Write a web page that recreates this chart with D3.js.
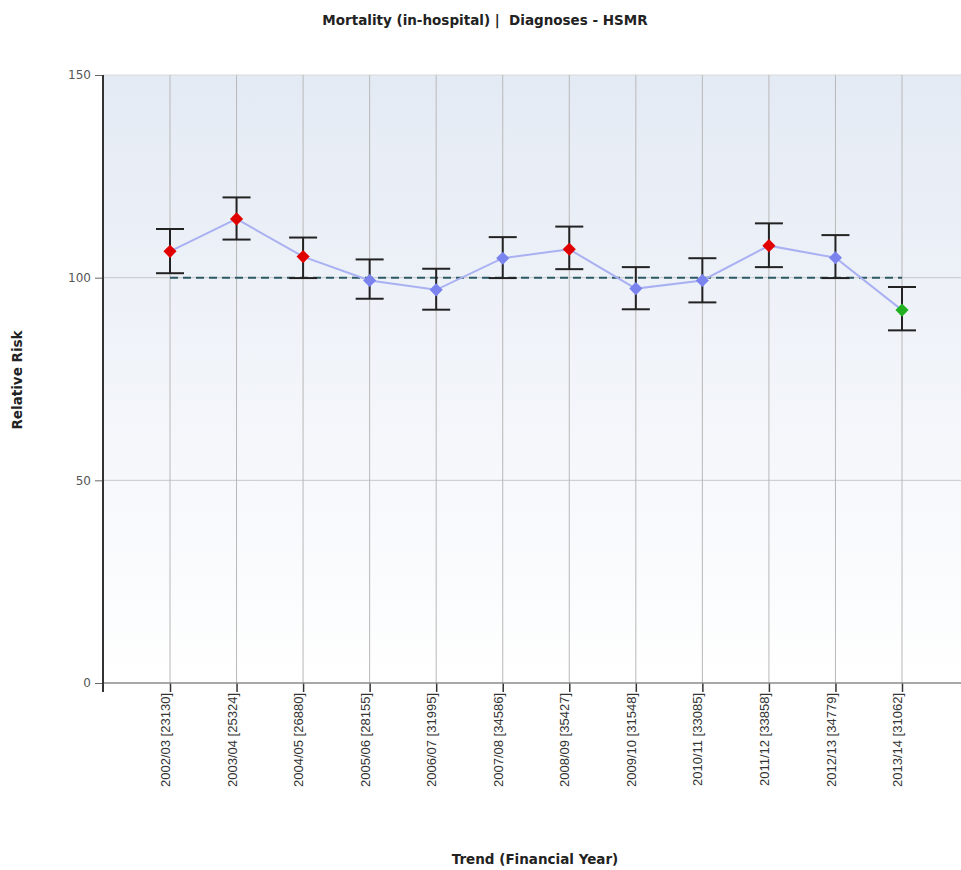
<!DOCTYPE html>
<html><head><meta charset="utf-8">
<script src="https://cdn.jsdelivr.net/npm/d3@7"></script>
<style>body{margin:0;background:#fff;}svg{display:block;}</style>
</head><body>
<script>
const categories = ["2002/03 [23130]","2003/04 [25324]","2004/05 [26880]","2005/06 [28155]","2006/07 [31995]","2007/08 [34586]","2008/09 [35427]","2009/10 [31548]","2010/11 [33085]","2011/12 [33858]","2012/13 [34779]","2013/14 [31062]"];
const riskValues = [106.5, 114.5, 105.2, 99.3, 97.0, 104.8, 107.0, 97.3, 99.3, 107.9, 104.9, 92.0];
const upperCI = [112.0, 119.8, 109.9, 104.5, 102.2, 110.0, 112.6, 102.6, 104.8, 113.4, 110.5, 97.7];
const lowerCI = [101.1, 109.4, 99.9, 94.8, 92.1, 99.9, 102.1, 92.2, 93.9, 102.6, 99.9, 87.0];
const status = ["high","high","high","normal","normal","normal","high","normal","normal","high","normal","low"];
const yTicks = [0, 50, 100, 150];
const benchmark = 100;

const W = 961, H = 870;
const m = {left: 103, top: 75, right: 0, bottom: 187};
const svg = d3.select("body").append("svg").attr("width", W).attr("height", H);

const x = d3.scalePoint().domain(categories).range([170, 902]);
const y = d3.scaleLinear().domain([0, 150]).range([H - m.bottom, m.top]);

const defs = svg.append("defs");
const grad = defs.append("linearGradient").attr("id","bg").attr("x1",0).attr("y1",0).attr("x2",0).attr("y2",1);
grad.append("stop").attr("offset","0%").attr("stop-color","#e4eaf4");
grad.append("stop").attr("offset","100%").attr("stop-color","#ffffff");

svg.append("rect").attr("x", m.left).attr("y", m.top).attr("width", W - m.left).attr("height", y(0) - m.top).attr("fill","url(#bg)");

svg.append("line").attr("x1", m.left).attr("x2", W).attr("y1", m.top).attr("y2", m.top).attr("stroke","#d8d8d8");

svg.append("g").selectAll("line").data(yTicks.filter(d => d > 0 && d < 150)).join("line")
  .attr("x1", m.left).attr("x2", W).attr("y1", d => y(d)).attr("y2", d => y(d))
  .attr("stroke","#c8c8c8").attr("stroke-width",1);

svg.append("g").selectAll("line").data(categories).join("line")
  .attr("x1", d => x(d)).attr("x2", d => x(d)).attr("y1", m.top).attr("y2", y(0))
  .attr("stroke","#b8b8b8").attr("stroke-width",1);

const xAxis = svg.append("g").attr("transform", `translate(0,${y(0)})`)
  .call(d3.axisBottom(x).tickSize(9).tickPadding(3));
xAxis.select(".domain").remove();
svg.append("line").attr("x1", m.left).attr("x2", W).attr("y1", y(0)).attr("y2", y(0)).attr("stroke","#8a8a8a").attr("stroke-width",1.5);
xAxis.selectAll(".tick line").attr("stroke","#333").attr("stroke-width",1.5);
xAxis.selectAll(".tick text")
  .attr("transform","rotate(-90)")
  .attr("text-anchor","end")
  .attr("x", -10).attr("y", -5).attr("dy","0.35em")
  .style("font-family","'Liberation Sans Narrow', 'Arial Narrow', 'Liberation Sans', Arial, sans-serif")
  .style("font-size","13px").attr("fill","#333");

const yAxis = svg.append("g").attr("transform", `translate(${m.left},0)`)
  .call(d3.axisLeft(y).tickValues(yTicks).tickSize(8).tickPadding(4));
yAxis.select(".domain").remove();
svg.append("line").attr("x1", m.left).attr("x2", m.left).attr("y1", m.top).attr("y2", y(0) + 9).attr("stroke","#333").attr("stroke-width",2);
yAxis.selectAll(".tick line").attr("stroke","#666");
yAxis.selectAll(".tick text").style("font-family","Verdana, 'DejaVu Sans', sans-serif").style("font-size","12px").attr("fill","#555");

svg.append("line").attr("x1", x(categories[0])).attr("x2", x(categories[categories.length-1]))
  .attr("y1", y(benchmark)).attr("y2", y(benchmark))
  .attr("stroke","#2e5a66").attr("stroke-width",2).attr("stroke-dasharray","8,5");

svg.append("path").datum(riskValues)
  .attr("d", d3.line().x((d,i) => x(categories[i])).y(d => y(d)))
  .attr("fill","none").attr("stroke","#a9b1f2").attr("stroke-width",2);

const eb = svg.append("g").selectAll("g").data(categories).join("g");
const cap = 14;
eb.append("line").attr("x1", d => x(d)).attr("x2", d => x(d))
  .attr("y1", (d,i) => y(upperCI[i])).attr("y2", (d,i) => y(lowerCI[i]))
  .attr("stroke","#222").attr("stroke-width",2);
eb.append("line").attr("x1", d => x(d) - cap).attr("x2", d => x(d) + cap)
  .attr("y1", (d,i) => y(upperCI[i])).attr("y2", (d,i) => y(upperCI[i]))
  .attr("stroke","#222").attr("stroke-width",2);
eb.append("line").attr("x1", d => x(d) - cap).attr("x2", d => x(d) + cap)
  .attr("y1", (d,i) => y(lowerCI[i])).attr("y2", (d,i) => y(lowerCI[i]))
  .attr("stroke","#222").attr("stroke-width",2);

const colorMap = {high: "#e00000", normal: "#7b83ee", low: "#22b022"};
svg.append("g").selectAll("path").data(categories).join("path")
  .attr("transform", (d,i) => `translate(${x(d)},${y(riskValues[i])})`)
  .attr("d", d3.symbol().type(d3.symbolDiamond2).size(110))
  .attr("fill", (d,i) => colorMap[status[i]]);

svg.append("text").attr("x", 485).attr("y", 25).attr("text-anchor","middle")
  .style("font-family","Verdana, 'DejaVu Sans', sans-serif").style("font-weight","bold").style("font-size","13.5px").attr("fill","#222")
  .style("white-space","pre")
  .text("Mortality (in-hospital) |  Diagnoses - HSMR");
svg.append("text").attr("x", 535).attr("y", 864).attr("text-anchor","middle")
  .style("font-family","Verdana, 'DejaVu Sans', sans-serif").style("font-weight","bold").style("font-size","13.5px").attr("fill","#222")
  .text("Trend (Financial Year)");
svg.append("text").attr("transform","translate(22,380) rotate(-90)").attr("text-anchor","middle")
  .style("font-family","Verdana, 'DejaVu Sans', sans-serif").style("font-weight","bold").style("font-size","13.5px").attr("fill","#222")
  .text("Relative Risk");
</script>
</body></html>
